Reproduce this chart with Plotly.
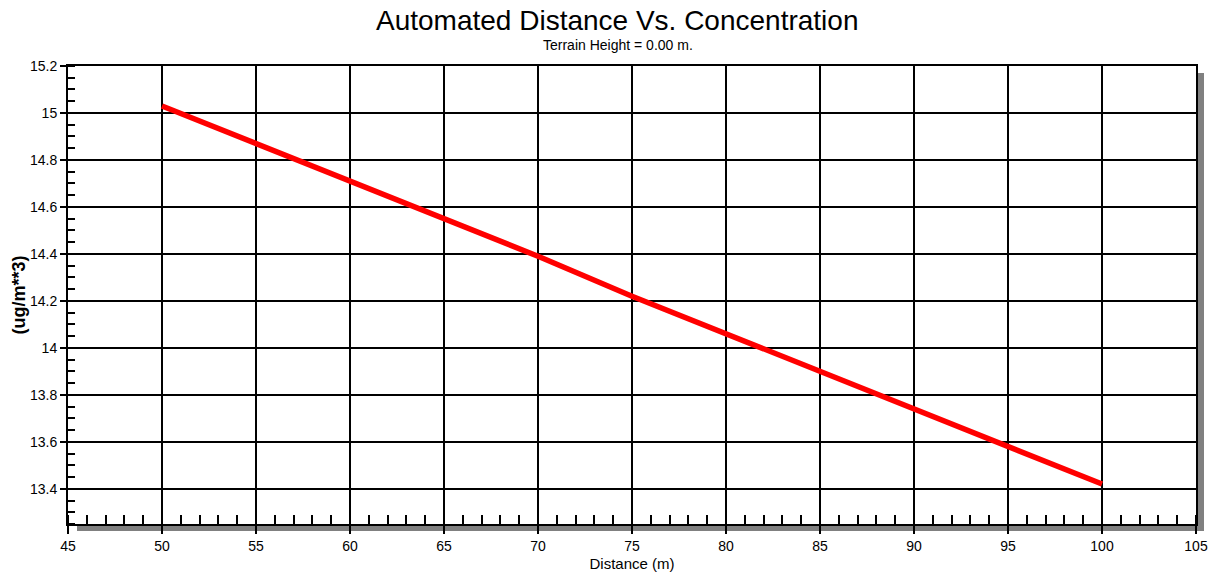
import plotly.graph_objects as go

distance = [50, 55, 60, 65, 70, 75, 80, 85, 90, 95, 100]
concentration = [15.03, 14.87, 14.71, 14.55, 14.39, 14.22, 14.06, 13.90, 13.74, 13.58, 13.42]

x_ticks = [45, 50, 55, 60, 65, 70, 75, 80, 85, 90, 95, 100, 105]
y_ticks = [13.4, 13.6, 13.8, 14.0, 14.2, 14.4, 14.6, 14.8, 15.0, 15.2]
y_labels = ["13.4", "13.6", "13.8", "14", "14.2", "14.4", "14.6", "14.8", "15", "15.2"]

title = "Automated Distance Vs. Concentration"
subtitle = "Terrain Height = 0.00 m."
x_title = "Distance (m)"
y_title = "(ug/m**3)"

W, H = 1220, 575
L, R, T, B = 68, 24, 66, 51
pw, ph = W - L - R, H - T - B


def py(p):
    return (H - B - p) / ph


def px(p):
    return (p - L) / pw


fig = go.Figure()
fig.add_trace(go.Scatter(x=distance, y=concentration, mode="lines",
                         line=dict(color="#ff0000", width=5.5), showlegend=False))

font = "Liberation Sans, Arial, sans-serif"
sx = 7 / pw
sy = 7 / ph
fig.add_shape(type="rect", xref="paper", yref="paper", x0=1 + 1 / pw, x1=1 + 1 / pw + sx,
              y0=-sy, y1=1 - sy, fillcolor="#808080", line_width=0, layer="below")
fig.add_shape(type="rect", xref="paper", yref="paper", x0=9 / pw, x1=1 + 1 / pw + sx,
              y0=-sy, y1=-1 / ph, fillcolor="#808080", line_width=0, layer="below")

fig.update_layout(
    width=W, height=H,
    margin=dict(l=L, r=R, t=T, b=B, pad=0),
    paper_bgcolor="white", plot_bgcolor="white",
    font=dict(family=font, color="#000000", size=14),
    annotations=[
        dict(text=title, x=px(617), xref="paper", y=py(20), yref="paper",
             xanchor="center", yanchor="middle", showarrow=False,
             font=dict(size=28, family=font, color="#000000")),
        dict(text=subtitle, x=px(618), xref="paper", y=py(45), yref="paper",
             xanchor="center", yanchor="middle", showarrow=False,
             font=dict(size=14, family=font, color="#000000")),
    ],
    xaxis=dict(range=[45, 105], tickvals=x_ticks, ticks="outside", ticklen=8, tickwidth=2,
               tickcolor="black", showline=True, linecolor="black", linewidth=2,
               mirror=True, showgrid=True, gridcolor="black", gridwidth=2, zeroline=False,
               automargin=False,
               tickfont=dict(size=14, family=font),
               title=dict(text=x_title, font=dict(size=15, family=font), standoff=6),
               minor=dict(dtick=1, tick0=45, ticks="inside", ticklen=9, tickwidth=1.5,
                          tickcolor="black", showgrid=False)),
    yaxis=dict(range=[13.25, 15.2], tickvals=y_ticks, ticktext=y_labels, ticks="outside",
               ticklen=6, tickwidth=2, tickcolor="black", showline=True, linecolor="black",
               linewidth=2, mirror=True, showgrid=True, gridcolor="black", gridwidth=2,
               zeroline=False, automargin=False,
               tickfont=dict(size=14, family=font),
               title=dict(text="<b>" + y_title + "</b>", font=dict(size=18, family=font), standoff=0),
               minor=dict(dtick=0.05, tick0=13.4, ticks="inside", ticklen=7, tickwidth=1.5,
                          tickcolor="black", showgrid=False)),
)

fig.write_html("out.html", config={"displayModeBar": False},
               post_script="document.body.style.margin='0';")
